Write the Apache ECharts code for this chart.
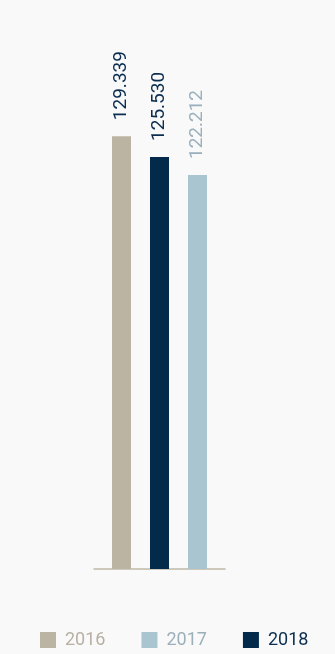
<!DOCTYPE html>
<html>
<head>
<meta charset="utf-8">
<script src="https://cdn.jsdelivr.net/npm/echarts@6/dist/echarts.min.js"></script>
<style>
  html, body { margin: 0; padding: 0; background: #f9f9f9; }
  #chart { width: 335px; height: 654px; }
</style>
</head>
<body>
<div id="chart"></div>
<script>
// data
var categories = ["Total"];
var seriesNames = ["2016", "2018", "2017"];
var seriesValues = [[129.339], [125.530], [122.212]];
var legendOrder = ["2016", "2017", "2018"];

var barColors = { "2016": "#bcb4a2", "2017": "#a9c5cf", "2018": "#03294b" };
var labelColors = { "2016": "#0b2d4f", "2017": "#9ab0bd", "2018": "#0b2d4f" };
var legendColors = { "2016": "#b8b1a3", "2017": "#9bb0bb", "2018": "#0b2d4f" };

var chart = echarts.init(document.getElementById("chart"));

var series = seriesNames.map(function (name, i) {
  return {
    name: name,
    type: "bar",
    data: seriesValues[i],
    barWidth: 19,
    barGap: "100%",
    itemStyle: { color: barColors[name] },
    label: {
      show: true,
      position: "top",
      rotate: 90,
      distance: 16,
      align: "left",
      verticalAlign: "middle",
      color: labelColors[name],
      fontFamily: "Roboto",
      fontSize: 19,
      formatter: function (p) {
        return p.value.toFixed(3);
      }
    }
  };
});

chart.setOption({
  backgroundColor: "#f9f9f9",
  animation: false,
  grid: {
    left: 94,
    right: 110,
    top: 78,
    bottom: 85
  },
  legend: {
    left: 35,
    bottom: 0,
    itemWidth: 16,
    itemHeight: 16,
    itemGap: 36,
    icon: "rect",
    textStyle: { fontFamily: "Roboto", fontSize: 18 },
    data: legendOrder.map(function (name) {
      return {
        name: name,
        itemStyle: { color: barColors[name] },
        textStyle: {
          color: legendColors[name],
          fontFamily: "Roboto",
          fontSize: 18,
          padding: [0, 0, 0, 4]
        }
      };
    })
  },
  xAxis: {
    type: "category",
    data: categories,
    axisLine: { show: true, lineStyle: { color: "#bdb8a6", width: 1.5 } },
    axisTick: { show: false },
    axisLabel: { show: false }
  },
  yAxis: {
    type: "value",
    min: 50,
    max: 140,
    show: false
  },
  series: series
});
</script>
</body>
</html>
